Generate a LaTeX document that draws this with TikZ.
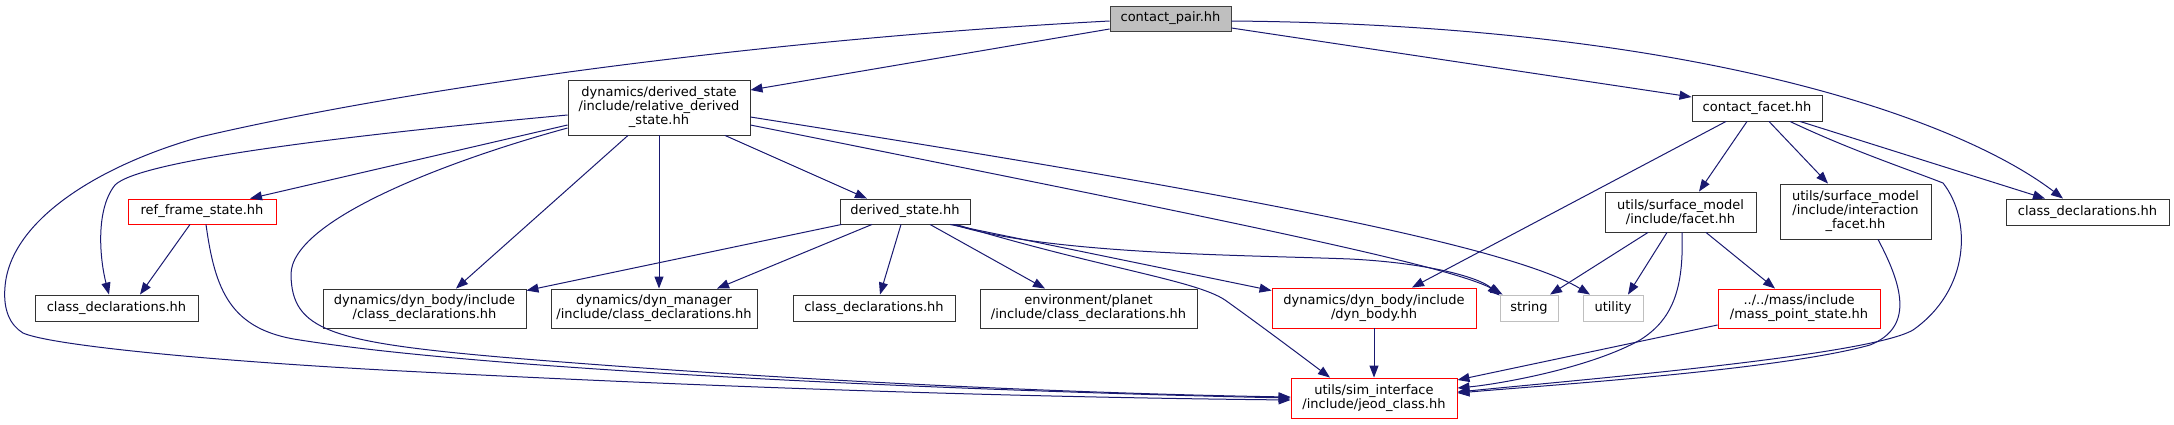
\documentclass[tikz,border=0pt]{standalone}
\usepackage{fontspec}
\setmainfont{DejaVu Sans}
\usepackage{xcolor}
\usepackage{tikz}
\usetikzlibrary{arrows.meta}
\definecolor{edgeblue}{HTML}{191970}
\definecolor{greyfill}{HTML}{BFBFBF}

\begin{document}
\begin{tikzpicture}[
  x=1pt, y=-1pt,
  font=\fontsize{13pt}{14pt}\selectfont,
  n/.style={draw=black!80, line width=0.9pt, fill=white, align=center, inner sep=0pt},
  nred/.style={n, draw=red},
  ngray/.style={n, draw=greyfill},
  nroot/.style={n, fill=greyfill, draw=black!75},
  sz/.style 2 args={minimum width=#1pt, minimum height=#2pt},
  dep/.style={draw=edgeblue, line width=1pt, -{Triangle[length=12pt,width=9pt]}}
]
\useasboundingbox (0,0) rectangle (2174,424);

\node[nroot, sz={121}{25}] (pair) at (1170.5,18.5) {contact\_pair.hh};
\node[n, sz={182}{55}] (rel) at (659,107.5) {dynamics/derived\_state\\/include/relative\_derived\\\_state.hh};
\node[n, sz={130}{26}] (facetc) at (1757,108) {contact\_facet.hh};
\node[n, sz={163}{26}] (clsR) at (2087.5,212) {class\_declarations.hh};
\node[nred, sz={148}{25}] (refframe) at (202,211.5) {ref\_frame\_state.hh};
\node[n, sz={130}{25}] (derived) at (905,211.5) {derived\_state.hh};
\node[n, sz={151}{40}] (facet) at (1680.5,212) {utils/surface\_model\\/include/facet.hh};
\node[n, sz={151}{55}] (ifacet) at (1855.5,211.5) {utils/surface\_model\\/include/interaction\\\_facet.hh};
\node[n, sz={163}{26}] (clsL) at (116.5,308) {class\_declarations.hh};
\node[n, sz={203}{39}] (bodycls) at (424.5,308.5) {dynamics/dyn\_body/include\\/class\_declarations.hh};
\node[n, sz={206}{39}] (mgrcls) at (654,308.5) {dynamics/dyn\_manager\\/include/class\_declarations.hh};
\node[n, sz={162}{26}] (clsM) at (874,308) {class\_declarations.hh};
\node[n, sz={217}{39}] (planet) at (1088.5,308.5) {environment/planet\\/include/class\_declarations.hh};
\node[nred, sz={204}{40}] (dynbody) at (1374,308) {dynamics/dyn\_body/include\\/dyn\_body.hh};
\node[ngray, sz={58}{26}] (string) at (1529,308) {string};
\node[ngray, sz={60}{26}] (utility) at (1613,308) {utility};
\node[nred, sz={162}{39}] (masspt) at (1799,308.5) {../../mass/include\\/mass\_point\_state.hh};
\node[nred, sz={166}{40}] (jeod) at (1374,398) {utils/sim\_interface\\/include/jeod\_class.hh};

% contact_pair.hh
\draw[dep] ([yshift=-10.5pt]pair.west) -- ([yshift=17.5pt]rel.east);
\draw[dep] ([yshift=-9.5pt]pair.east) -- ([yshift=11pt]facetc.west);
\draw[dep] ([yshift=-2.5pt]pair.east) .. controls (1700,25) and (1960,120) .. ([xshift=-24.5pt]clsR.north);
\draw[dep] ([yshift=-2.5pt]pair.west) .. controls (750,40) and (400,90) .. (200,137)
  .. controls (100,165) and (10,220) .. (5,287) .. controls (3,310) and (10,325) .. (23,333)
  .. controls (50,345) and (200,360) .. (383,370)
  .. controls (800,392) and (1100,398) .. ([yshift=-2pt]jeod.west);

% relative_derived_state.hh
\draw[dep] ([yshift=-17.5pt]rel.west) -- ([xshift=48pt]refframe.north);
\draw[dep] ([yshift=-7.5pt]rel.west) .. controls (350,135) and (140,160) .. (115,185)
  .. controls (95,210) and (100,260) .. ([xshift=-7.5pt]clsL.north);
\draw[dep] ([yshift=-20.5pt]rel.west) .. controls (450,160) and (290,220) .. (291,275)
  .. controls (292,330) and (330,342) .. (500,357) .. controls (800,382) and (1100,394) .. ([yshift=1pt]jeod.west);
\draw[dep] ([xshift=-31pt]rel.south) -- ([xshift=31.5pt]bodycls.north);
\draw[dep] (rel.south) -- ([xshift=5pt]mgrcls.north);
\draw[dep] ([xshift=66pt]rel.south) -- ([xshift=-38pt]derived.north);
\draw[dep] ([yshift=-17.5pt]rel.east) .. controls (1200,215) and (1450,265) .. ([xshift=3pt]string.north west);
\draw[dep] ([yshift=-9.5pt]rel.east) .. controls (1150,180) and (1500,240) .. ([xshift=-23pt]utility.north);

% ref_frame_state.hh
\draw[dep] ([xshift=-12pt]refframe.south) -- ([xshift=23.5pt]clsL.north);
\draw[dep] ([xshift=4pt]refframe.south) .. controls (215,290) and (230,330) .. (300,340)
  .. controls (500,372) and (1000,392) .. (jeod.west);

% derived_state.hh
\draw[dep] ([xshift=2pt]derived.south west) -- ([yshift=-2pt]bodycls.north east);
\draw[dep] ([xshift=-33pt]derived.south) -- ([xshift=63pt]mgrcls.north);
\draw[dep] ([xshift=-4pt]derived.south) -- ([xshift=6pt]clsM.north);
\draw[dep] ([xshift=25pt]derived.south) -- ([xshift=-43.5pt]planet.north);
\draw[dep] ([xshift=45pt]derived.south) -- ([yshift=-3pt]dynbody.north west);
\draw[dep] ([xshift=48pt]derived.south) .. controls (1050,255) and (1250,255) .. (1350,259)
  .. controls (1430,263) and (1480,278) .. ([yshift=-1pt]string.north west);
\draw[dep] ([xshift=51pt]derived.south) .. controls (1100,268) and (1195,280) .. (1225,300)
  .. controls (1260,325) and (1300,355) .. ([xshift=-44pt]jeod.north);

% contact_facet.hh
\draw[dep] ([xshift=-31pt]facetc.south) -- ([xshift=38pt]dynbody.north);
\draw[dep] ([xshift=-10pt]facetc.south) -- ([xshift=18.5pt]facet.north);
\draw[dep] ([xshift=12pt]facetc.south) -- ([xshift=-27.5pt]ifacet.north);
\draw[dep] ([xshift=43pt]facetc.south) -- ([xshift=-42.5pt]clsR.north);
\draw[dep] ([xshift=33pt]facetc.south) .. controls (1850,150) and (1910,170) .. (1943,183)
  .. controls (1972,220) and (1970,290) .. (1913,330)
  .. controls (1870,355) and (1600,378) .. ([yshift=6pt]jeod.east);

% facet.hh and the rest
\draw[dep] ([xshift=-32.5pt]facet.south) -- ([xshift=21pt]string.north);
\draw[dep] ([xshift=-13.5pt]facet.south) -- ([xshift=15pt]utility.north);
\draw[dep] ([xshift=25.5pt]facet.south) -- ([xshift=-24pt]masspt.north);
\draw[dep] ([xshift=1.5pt]facet.south) .. controls (1684,290) and (1672,320) .. (1640,340)
  .. controls (1590,368) and (1500,384) .. ([yshift=10pt]jeod.east);
\draw[dep] ([xshift=22.5pt]ifacet.south) .. controls (1905,290) and (1912,328) .. (1870,345)
  .. controls (1780,370) and (1550,385) .. ([yshift=5pt]jeod.east);
\draw[dep] (dynbody.south) -- (jeod.north);
\draw[dep] ([yshift=-16.5pt]masspt.west) -- ([yshift=18pt]jeod.east);
\end{tikzpicture}
\end{document}
